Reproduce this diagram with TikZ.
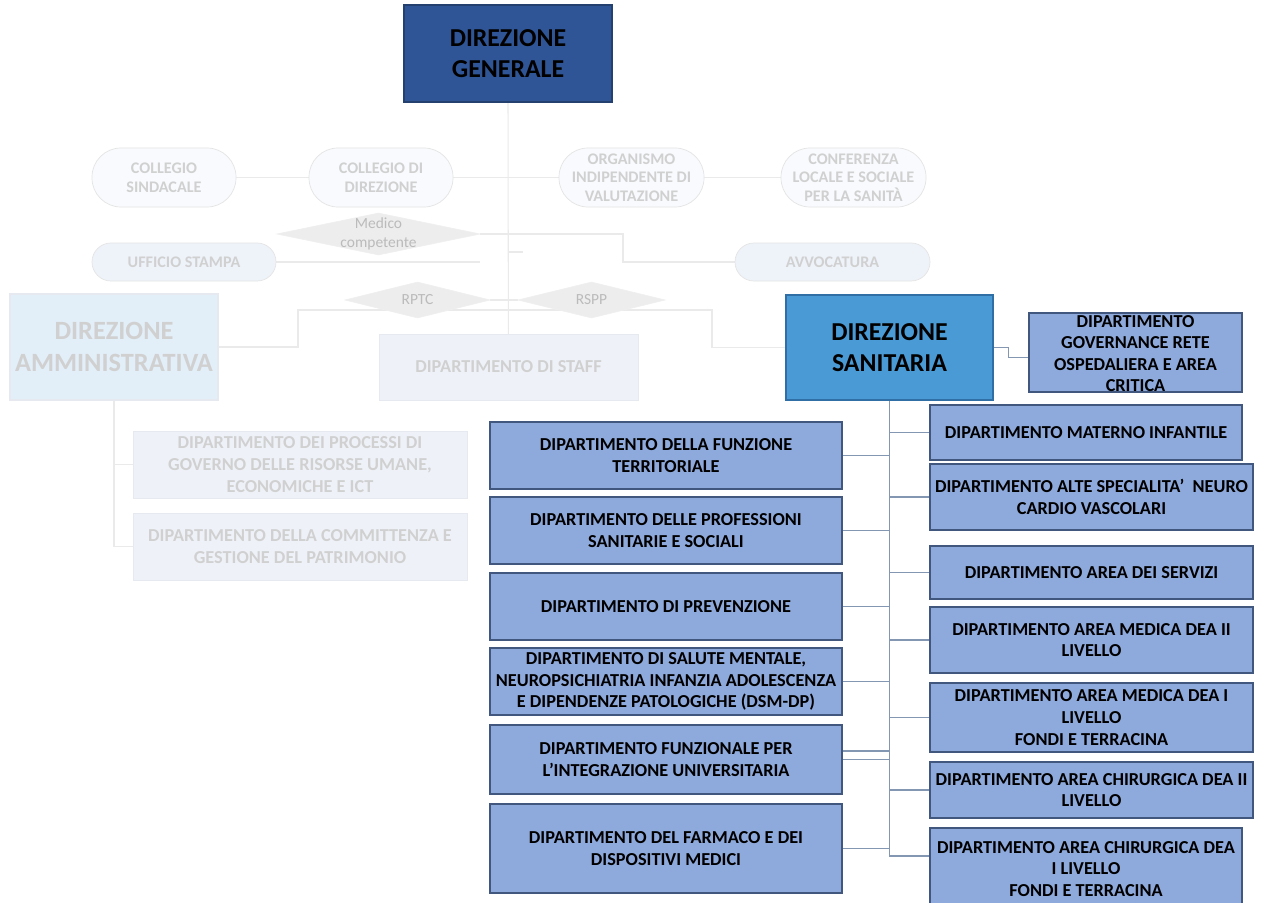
\documentclass[tikz,border=0pt]{standalone}
\usepackage{fontspec}
\setmainfont{Carlito}
\usetikzlibrary{shapes.geometric}
\newlength\pxu \setlength\pxu{0.02cm}
\definecolor{dgfill}{HTML}{2F5597}
\definecolor{dgborder}{HTML}{23406F}
\definecolor{dsfill}{HTML}{4A9AD5}
\definecolor{dsborder}{HTML}{2F6FA6}
\definecolor{deptfill}{HTML}{8EA9DB}
\definecolor{deptborder}{HTML}{42577D}
\definecolor{connc}{HTML}{8396B2}
\definecolor{fadeln}{HTML}{EAEAEA}
\definecolor{fadetxt}{HTML}{D0D0D0}
\definecolor{fadefill}{HTML}{EEF2F8}
\definecolor{fadebd}{HTML}{E6EAF0}
\definecolor{damfill}{HTML}{E2EEF8}
\definecolor{pillfill}{HTML}{F8FAFD}
\definecolor{pillbd}{HTML}{E4E4E4}
\definecolor{pillblue}{HTML}{EEF3FA}
\definecolor{diamfill}{HTML}{EDEDED}
\pgfdeclarelayer{bg}
\pgfdeclarelayer{paper}
\pgfsetlayers{paper,bg,main}
\begin{document}
\begin{tikzpicture}[x=0.02cm,y=-0.02cm,
  fadeline/.style={draw=fadeln, line width=0.6pt},
  conn/.style={draw=connc, line width=0.6pt},
  bigbox/.style={line width=0.7pt, align=center, inner sep=1pt,
    font=\bfseries\fontsize{14.7}{18}\selectfont, text=black},
  dept/.style={draw=deptborder, fill=deptfill, line width=0.6pt, align=center,
    inner sep=0.5pt, font=\bfseries\fontsize{10.4}{12.3}\selectfont, text=black},
  fadebox/.style={draw=fadebd, fill=fadefill, align=center, inner sep=0.5pt,
    font=\bfseries\fontsize{10.4}{12.5}\selectfont, text=fadetxt},
  pill/.style={draw=pillbd, fill=pillfill, align=center, inner sep=0.5pt,
    font=\bfseries\fontsize{9.2}{10.6}\selectfont, text=fadetxt},
  diam/.style={diamond, draw=diamfill!80!gray!40, fill=diamfill, inner sep=0pt},
  diamtext/.style={align=center, inner sep=0pt,
    font=\fontsize{8.8}{10.4}\selectfont, text=fadetxt!90!black}
]
\path[use as bounding box] (0,0) rectangle (1263,902);
\begin{pgfonlayer}{paper}
\fill[white] (0,0) rectangle (1263,902);
\end{pgfonlayer}

% ---- top
\node[bigbox, draw=dgborder, fill=dgfill, minimum width=208\pxu, minimum height=97\pxu] (dg) at (508,53.5) {DIREZIONE\\GENERALE};

% ---- faded upper part
\node[pill, rounded corners=29\pxu, minimum width=144\pxu, minimum height=59\pxu] (cs) at (164,177.5) {COLLEGIO\\SINDACALE};
\node[pill, rounded corners=29\pxu, minimum width=144\pxu, minimum height=59\pxu] (cd) at (381,177.5) {COLLEGIO DI\\DIREZIONE};
\node[pill, rounded corners=29\pxu, minimum width=145\pxu, minimum height=59\pxu] (org) at (631.5,177.5) {ORGANISMO\\INDIPENDENTE DI\\VALUTAZIONE};
\node[pill, rounded corners=29\pxu, minimum width=145\pxu, minimum height=59\pxu] (conf) at (853.5,177.5) {CONFERENZA\\LOCALE E SOCIALE\\PER LA SANITÀ};
\node[pill, fill=pillblue, rounded corners=19\pxu, minimum width=184\pxu, minimum height=38\pxu] (uff) at (184,262) {UFFICIO STAMPA};
\node[pill, fill=pillblue, rounded corners=19\pxu, minimum width=195\pxu, minimum height=38\pxu] (avv) at (832.5,262) {AVVOCATURA};

\node[diam, minimum width=203\pxu, minimum height=42\pxu] (med) at (378.5,234) {};
\node[diamtext] (medt) at (med.center) {Medico\\competente};
\node[diam, minimum width=145\pxu, minimum height=36\pxu] (rptc) at (417.5,300) {};
\node[diamtext] (rptct) at (rptc.center) {RPTC};
\node[diam, minimum width=147\pxu, minimum height=36\pxu] (rspp) at (591.5,300) {};
\node[diamtext] (rsppt) at (rspp.center) {RSPP};

\node[bigbox, draw=fadebd, fill=damfill, text=fadetxt, font=\bfseries\fontsize{15}{18}\selectfont,
  minimum width=208\pxu, minimum height=106\pxu] (da) at (114,347) {DIREZIONE\\AMMINISTRATIVA};
\node[fadebox, minimum width=259\pxu, minimum height=66\pxu] (staff) at (508.5,367) {DIPARTIMENTO DI STAFF};
\node[fadebox, minimum width=334\pxu, minimum height=67\pxu] (dp) at (300,464.5) {DIPARTIMENTO DEI PROCESSI DI\\GOVERNO DELLE RISORSE UMANE,\\ECONOMICHE E ICT};
\node[fadebox, minimum width=334\pxu, minimum height=67\pxu] (dc) at (300,546.5) {DIPARTIMENTO DELLA COMMITTENZA E\\GESTIONE DEL PATRIMONIO};

% ---- direzione sanitaria
\node[bigbox, draw=dsborder, fill=dsfill, minimum width=207\pxu, minimum height=105\pxu] (ds) at (889.5,347.5) {DIREZIONE\\SANITARIA};
\node[dept, minimum width=213\pxu, minimum height=79\pxu] (gov) at (1135.5,352.5) {};
\node[align=center, inner sep=0pt, font=\bfseries\fontsize{10.4}{12.3}\selectfont] (govt) at (1135.5,353.5) {DIPARTIMENTO\\GOVERNANCE RETE\\OSPEDALIERA E AREA\\CRITICA};

% left column
\node[dept, minimum width=352\pxu, minimum height=67\pxu] (f1) at (666,455.5) {DIPARTIMENTO DELLA FUNZIONE\\TERRITORIALE};
\node[dept, minimum width=352\pxu, minimum height=67\pxu] (f2) at (666,530.5) {DIPARTIMENTO DELLE PROFESSIONI\\SANITARIE E SOCIALI};
\node[dept, minimum width=352\pxu, minimum height=67\pxu] (f3) at (666,606.5) {DIPARTIMENTO DI PREVENZIONE};
\node[dept, minimum width=352\pxu, minimum height=67\pxu] (f4) at (666,681.5) {DIPARTIMENTO DI SALUTE MENTALE,\\NEUROPSICHIATRIA INFANZIA ADOLESCENZA\\E DIPENDENZE PATOLOGICHE (DSM-DP)};
\node[dept, minimum width=352\pxu, minimum height=69\pxu] (f5) at (666,759.5) {DIPARTIMENTO FUNZIONALE PER\\L’INTEGRAZIONE UNIVERSITARIA};
\node[dept, minimum width=352\pxu, minimum height=89\pxu] (f6) at (666,848.5) {DIPARTIMENTO DEL FARMACO E DEI\\DISPOSITIVI MEDICI};

% right column
\node[dept, minimum width=312\pxu, minimum height=55\pxu] (r1) at (1086,432.5) {DIPARTIMENTO MATERNO INFANTILE};
\node[dept, minimum width=323\pxu, minimum height=66\pxu] (r2) at (1091.5,497) {DIPARTIMENTO ALTE SPECIALITA’\ \ NEURO\\CARDIO VASCOLARI};
\node[dept, minimum width=323\pxu, minimum height=53\pxu] (r3) at (1091.5,572.5) {DIPARTIMENTO AREA DEI SERVIZI};
\node[dept, minimum width=323\pxu, minimum height=66\pxu] (r4) at (1091.5,640) {DIPARTIMENTO AREA MEDICA DEA II\\LIVELLO};
\node[dept, minimum width=323\pxu, minimum height=69\pxu] (r5) at (1091.5,717.5) {DIPARTIMENTO AREA MEDICA DEA I\\LIVELLO\\FONDI E TERRACINA};
\node[dept, minimum width=323\pxu, minimum height=56\pxu] (r6) at (1091.5,790) {DIPARTIMENTO AREA CHIRURGICA DEA II\\LIVELLO};
\node[dept, minimum width=312\pxu, minimum height=82\pxu] (r7) at (1086,869) {DIPARTIMENTO AREA CHIRURGICA DEA\\I LIVELLO\\FONDI E TERRACINA};

% ---- connectors
\begin{pgfonlayer}{bg}
\coordinate (uffend) at (480,262);
\coordinate (ticka) at (509,252);
\coordinate (tickb) at (523,252);
\path[fadeline] (dg.south) -- (staff.south);
\path[fadeline] (cs.east) -- (cd.west);
\path[fadeline] (cd.east) -- (org.west);
\path[fadeline] (org.east) -- (conf.west);
\path[fadeline] (med.east) -- (509,234) -- (623,234) |- (avv.west);
\path[fadeline] (ticka) -- (tickb);
\path[fadeline] (uff.east) -- (uffend);
\path[fadeline] (rptc.east) -- (rspp.west);
\path[fadeline] (da.east) -- (298,347) -- (298,310) -- (712,310) |- (ds.west);
\path[fadeline] (da.south) |- (dp.west);
\path[fadeline] (da.south) |- (dc.west);

\path[conn] (ds.east) -- ++(15\pxu,0) |- ([yshift=-0.1cm]gov.west);
\path[conn] (ds.south) |- ([yshift=0.26cm]r7.west);
\foreach \n in {f1,f2,f3,f4,f5,f6}{
  \path[conn] (\n.east) -- (\n.east -| ds.south);
}
\path[conn] ([yshift=0.17cm]f5.east) -- ([yshift=0.17cm]f5.east -| ds.south);
\foreach \n in {r1,r2,r3,r4,r5,r6}{
  \path[conn] (\n.west -| ds.south) -- (\n.west);
}
\end{pgfonlayer}
\end{tikzpicture}
\end{document}
